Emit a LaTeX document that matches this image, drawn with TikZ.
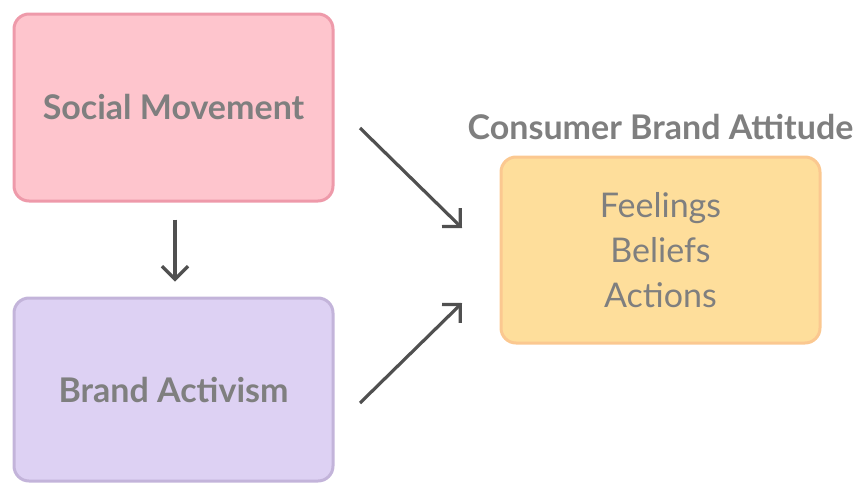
\documentclass[tikz,border=0pt]{standalone}
\usepackage{fontspec}
\setmainfont{Lato}
\usepackage{xcolor}
\usetikzlibrary{positioning}
\usetikzlibrary{arrows.meta}

\definecolor{textgray}{HTML}{7F7F7F}
\definecolor{arrowgray}{HTML}{505050}
\definecolor{pinkfill}{HTML}{FEC5CD}
\definecolor{pinkline}{HTML}{EE9AAA}
\definecolor{lilacfill}{HTML}{DDD1F3}
\definecolor{lilacline}{HTML}{C3B4DA}
\definecolor{orangefill}{HTML}{FEDE9B}
\definecolor{orangeline}{HTML}{FBC890}

\begin{document}
\begin{tikzpicture}[
    x=1pt, y=-1pt,
    >={Straight Barb[length=13pt,width=26pt]},
    box/.style={rectangle, rounded corners=15pt, line width=3pt,
      minimum width=319pt, text=textgray, align=center},
    boxtitle/.style={font=\fontsize{34}{40}\selectfont\bfseries},
    flow/.style={->, line width=3.2pt, draw=arrowgray},
  ]

  \useasboundingbox (0,0) rectangle (856,482);

  % Boxes on the left
  \node[box, boxtitle, fill=pinkfill, draw=pinkline, minimum height=187pt]
    (social) at (173.5,107.5) {Social Movement};
  \node[box, boxtitle, fill=lilacfill, draw=lilacline, minimum height=183pt]
    (activism) at (173.5,389.5) {Brand Activism};

  % Attitude box on the right
  \node[box, fill=orangefill, draw=orangeline, minimum height=186pt,
    font=\fontsize{34}{45}\selectfont]
    (attitude) at (660.5,250) {Feelings\\Beliefs\\Actions};
  \node[boxtitle, text=textgray, above=12pt of attitude]
    (title) {Consumer Brand Attitude};

  % Arrow ends
  \coordinate (socialout)   at (360,128);
  \coordinate (activismout) at (360,403);
  \coordinate (attitudein1) at (462,228);
  \coordinate (attitudein2) at (462,303);

  % Arrows
  \draw[flow] (social.south) ++(1.5,17) -- ++(0,62);
  \draw[flow] (socialout) -- (attitudein1);
  \draw[flow] (activismout) -- (attitudein2);

\end{tikzpicture}
\end{document}
